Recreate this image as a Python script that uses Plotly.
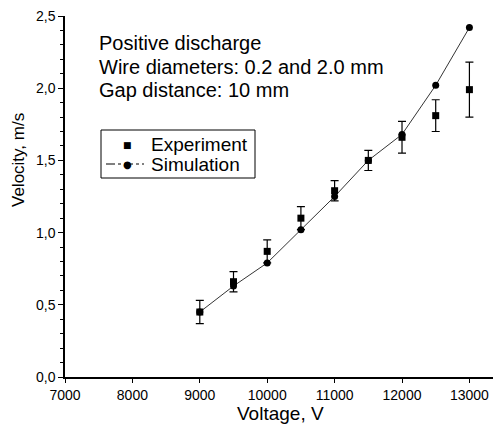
import plotly.graph_objects as go

voltage = [9000, 9500, 10000, 10500, 11000, 11500, 12000, 12500, 13000]
exp_velocity = [0.45, 0.66, 0.87, 1.10, 1.29, 1.50, 1.66, 1.81, 1.99]
exp_error = [0.08, 0.07, 0.08, 0.08, 0.07, 0.07, 0.11, 0.11, 0.19]
sim_velocity = [0.45, 0.63, 0.79, 1.02, 1.25, 1.50, 1.68, 2.02, 2.42]

y_ticks = [0.0, 0.5, 1.0, 1.5, 2.0, 2.5]
y_labels = ["0,0", "0,5", "1,0", "1,5", "2,0", "2,5"]
x_ticks = [7000, 8000, 9000, 10000, 11000, 12000, 13000]
x_labels = ["7000", "8000", "9000", "10000", "11000", "12000", "13000"]
info_lines = ["Positive discharge", "Wire diameters: 0.2 and 2.0 mm", "Gap distance: 10 mm"]
legend_names = ["Experiment", "Simulation"]

FONT = "Liberation Sans, Arial, sans-serif"

fig = go.Figure()
fig.add_trace(go.Scatter(
    x=voltage, y=sim_velocity, mode="lines+markers", name=legend_names[1],
    line=dict(color="black", width=0.8),
    marker=dict(symbol="circle", size=7, color="black"),
))
fig.add_trace(go.Scatter(
    x=voltage, y=exp_velocity, mode="markers", name=legend_names[0],
    marker=dict(symbol="square", size=7, color="black"),
    error_y=dict(type="data", array=exp_error, color="black", thickness=1.2, width=4),
))

fig.update_layout(
    width=496, height=432,
    margin=dict(l=65, r=3, t=16, b=55),
    paper_bgcolor="white", plot_bgcolor="white",
    font=dict(family=FONT, color="black", size=14),
    showlegend=False,
    xaxis=dict(
        range=[7000, 13350], tickvals=x_ticks, ticktext=x_labels, ticks="outside", ticklen=4,
        tickcolor="black", showline=True, linecolor="black", linewidth=1.5,
        showgrid=False, zeroline=False, tickfont=dict(size=14), automargin=False,
    ),
    yaxis=dict(
        range=[0, 2.5], tickvals=y_ticks, ticktext=y_labels, ticks="outside",
        ticklen=5, tickcolor="black", showline=True, linecolor="black",
        linewidth=1.5, showgrid=False, zeroline=False, tickfont=dict(size=14),
        minor=dict(dtick=0.1, ticks="outside", ticklen=3, tickcolor="black"),
        automargin=False,
    ),
)

H_PLOT = 432 - 16 - 55
W_PLOT = 496 - 65 - 3


def px(x):
    return (x - 65) / W_PLOT


def py(y):
    return (377 - y) / H_PLOT


fig.add_annotation(
    xref="paper", yref="paper", x=px(280), y=py(413),
    xanchor="center", yanchor="middle", text="Voltage, V", showarrow=False,
    font=dict(size=19, family=FONT),
)
fig.add_annotation(
    xref="paper", yref="paper", x=px(18), y=py(160),
    xanchor="center", yanchor="middle", text="Velocity, m/s", showarrow=False,
    textangle=-90, font=dict(size=17, family=FONT),
)

line_centers = [43, 66.5, 90]
for txt, yc in zip(info_lines, line_centers):
    fig.add_annotation(
        xref="paper", yref="paper", x=px(97), y=py(yc),
        xanchor="left", yanchor="middle", text=txt, showarrow=False,
        font=dict(size=20, family=FONT),
    )

# legend box (drawn)
fig.add_shape(type="rect", xref="paper", yref="paper",
              x0=px(101), x1=px(255), y0=py(178), y1=py(130),
              line=dict(color="black", width=1), fillcolor="white", layer="above")
fig.add_shape(type="line", xref="paper", yref="paper",
              x0=px(106), x1=px(144), y0=py(164), y1=py(164),
              line=dict(color="black", width=1, dash="dashdot"), layer="above")
fig.add_annotation(xref="paper", yref="paper", x=px(127), y=py(144.5),
                   xanchor="center", yanchor="middle", text="■", showarrow=False,
                   font=dict(size=9, family="DejaVu Sans"))
fig.add_annotation(xref="paper", yref="paper", x=px(127), y=py(164.5),
                   xanchor="center", yanchor="middle", text="●", showarrow=False,
                   font=dict(size=10, family="DejaVu Sans"), bgcolor="rgba(0,0,0,0)")
for name, yc in zip(legend_names, [144, 164]):
    fig.add_annotation(xref="paper", yref="paper", x=px(149), y=py(yc),
                       xanchor="left", yanchor="middle", text=name, showarrow=False,
                       font=dict(size=19, family=FONT))

fig.write_html("out.html", config={"displayModeBar": False},
               post_script="document.body.style.margin='0';")
